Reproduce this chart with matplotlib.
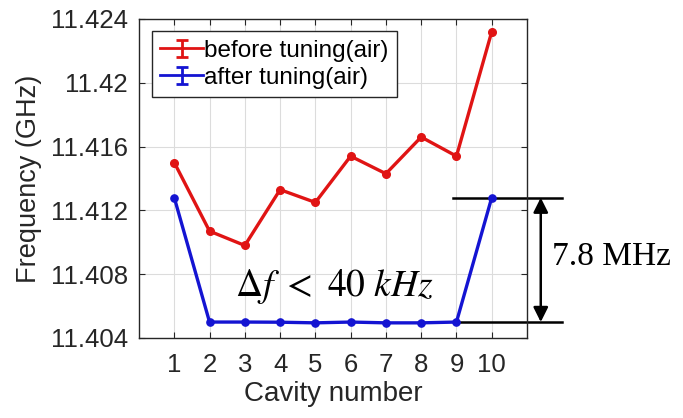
import numpy as np
import matplotlib.pyplot as plt
from matplotlib.ticker import FixedLocator, FixedFormatter
from matplotlib.legend_handler import HandlerErrorbar
from matplotlib.container import ErrorbarContainer

plt.rcParams.update({
    'font.family': 'Liberation Sans',
    'mathtext.fontset': 'stix',
    'axes.edgecolor': '#262626',
    'xtick.color': '#262626',
    'ytick.color': '#262626',
})

# Resonant frequency of each cavity (GHz)
cavity = np.arange(1, 11)
before_tuning = [11.4150, 11.4107, 11.4098, 11.4133, 11.4125,
                 11.4154, 11.4143, 11.4166, 11.4154, 11.4232]
after_tuning = [11.4128, 11.40500, 11.40500, 11.40499, 11.40495,
                11.40500, 11.40495, 11.40495, 11.40500, 11.4128]

y_ticks = [11.404, 11.408, 11.412, 11.416, 11.420, 11.424]
y_tick_labels = ['11.404', '11.408', '11.412', '11.416', '11.42', '11.424']

RED = '#e01414'
BLUE = '#1414d2'

fig = plt.figure(figsize=(6.83, 4.18), dpi=100)
ax = fig.add_axes([139 / 683, 80 / 418, 388 / 683, 319 / 418])

ax.plot(cavity, before_tuning, color=RED, lw=2.4, marker='o', ms=5.5, zorder=3)
ax.plot(cavity, after_tuning, color=BLUE, lw=2.4, marker='o', ms=5.2, zorder=3)

# legend entries drawn in errorbar style
h_before = ax.errorbar([np.nan], [np.nan], yerr=[1], color=RED, lw=2,
                       elinewidth=2, capsize=4, capthick=2, label='before tuning(air)')
h_after = ax.errorbar([np.nan], [np.nan], yerr=[1], color=BLUE, lw=2,
                      elinewidth=2, capsize=4, capthick=2, label='after tuning(air)')
leg = ax.legend(handles=[h_before, h_after], loc='upper left',
                bbox_to_anchor=(0.033, 0.962), borderaxespad=0, fontsize=17.5,
                handlelength=1.75, handletextpad=0.05, borderpad=0.35,
                labelspacing=0.2, fancybox=False, framealpha=1,
                handler_map={ErrorbarContainer: HandlerErrorbar(yerr_size=0.35)})
leg.get_frame().set_edgecolor('#262626')
leg.get_frame().set_linewidth(1.0)

ax.set_xlim(0, 11)
ax.set_ylim(11.404, 11.424)
ax.xaxis.set_major_locator(FixedLocator(cavity))
ax.yaxis.set_major_locator(FixedLocator(y_ticks))
ax.yaxis.set_major_formatter(FixedFormatter(y_tick_labels))
ax.tick_params(direction='in', length=4, width=0.8, labelsize=18.5,
               top=True, right=True, labelcolor='#262626')
ax.tick_params(axis='x', pad=11)
ax.tick_params(axis='y', pad=8)
ax.grid(True, color='#dcdcdc', lw=0.8)
ax.set_axisbelow(True)
for sp in ax.spines.values():
    sp.set_linewidth(1.0)

ax.set_xlabel('Cavity number', fontsize=20, color='#262626', labelpad=3)
ax.set_ylabel('Frequency (GHz)', fontsize=19.5, color='#262626', labelpad=6)

# frequency spread after tuning
ax.text(5.55, 11.40720, r'$\Delta f\ <\ 40\ kHz$', fontsize=27,
        ha='center', va='center', zorder=4)

# 7.8 MHz span marker outside the axes
top, bottom = after_tuning[9], after_tuning[8]
ax.plot([8.89, 11.98], [top, top], color='black', lw=1.8, clip_on=False)
ax.plot([9.0, 12.0], [bottom, bottom], color='black', lw=1.8, clip_on=False)
ax.annotate('', xy=(11.39, top), xytext=(11.39, bottom),
            arrowprops=dict(arrowstyle='<|-|>', color='black', lw=1.8,
                            mutation_scale=22, shrinkA=0, shrinkB=0),
            annotation_clip=False)
ax.text(11.72, (top + bottom) / 2 + 0.0002, '7.8 MHz', fontsize=24,
        family='Liberation Serif', ha='left', va='center')

fig.savefig('out.png', dpi=100)
